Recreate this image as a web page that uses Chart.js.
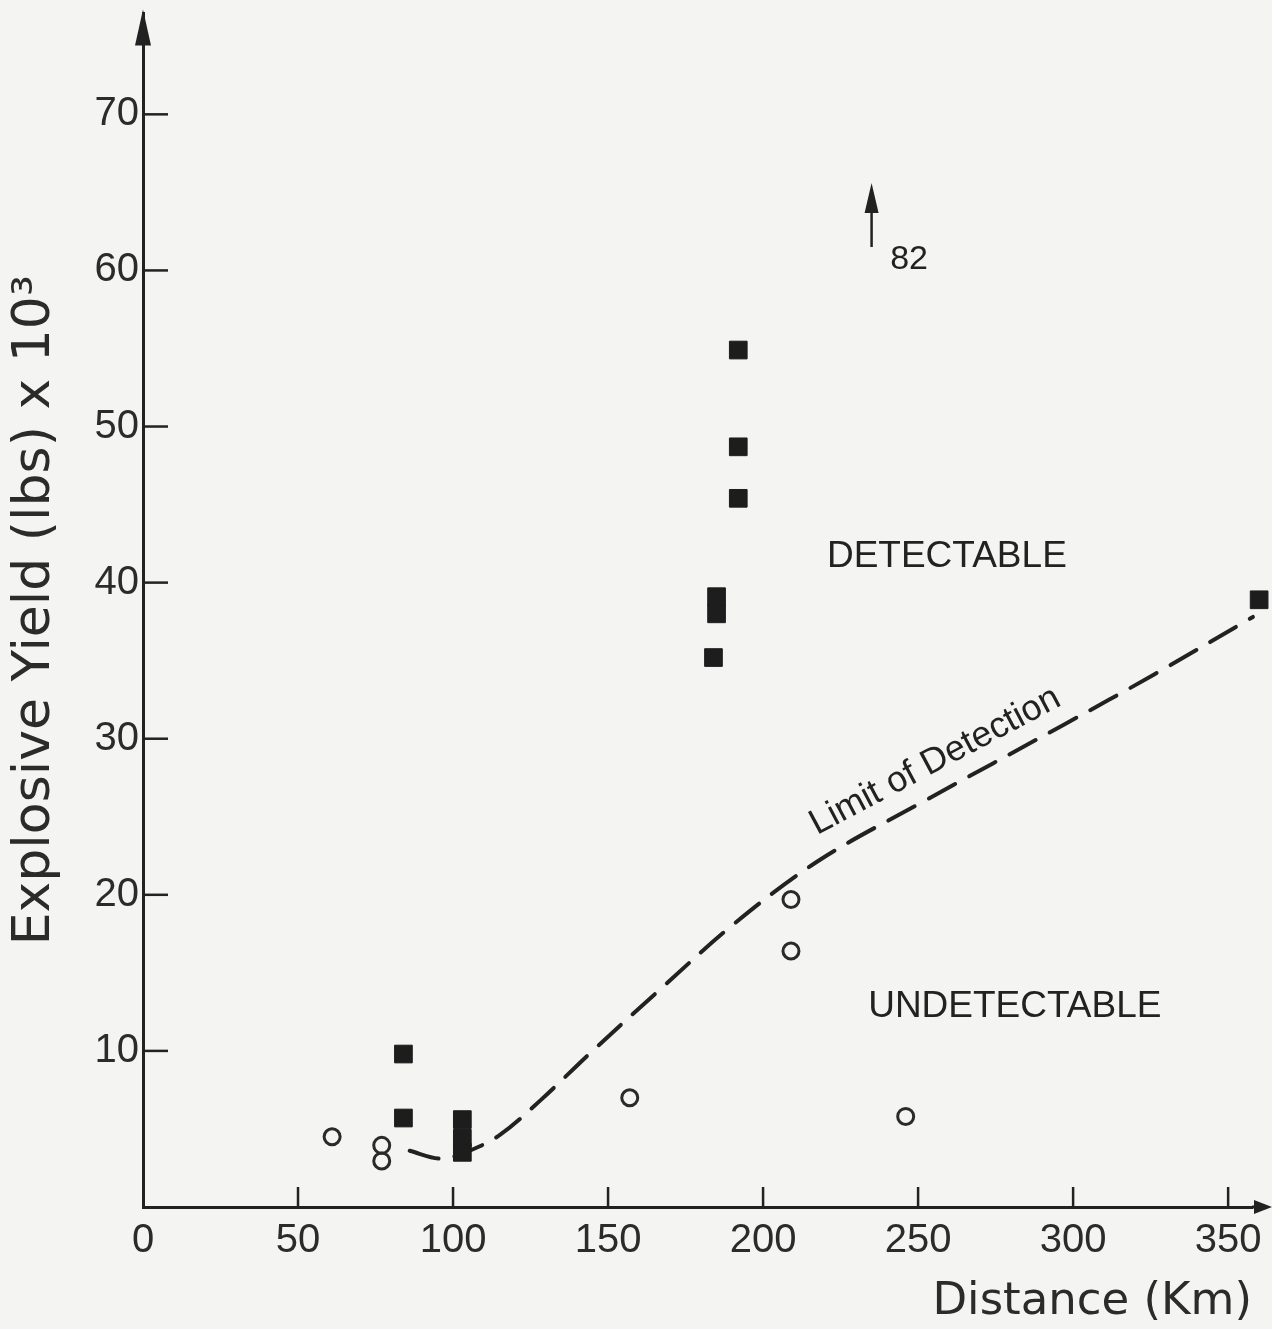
<!DOCTYPE html>
<html>
<head>
<meta charset="utf-8">
<script src="https://cdn.jsdelivr.net/npm/chart.js@4.4.0/dist/chart.umd.min.js"></script>
<style>
  html, body { margin: 0; padding: 0; background: #f4f4f2; }
  canvas { display: block; }
</style>
</head>
<body>
<canvas id="yield-chart" width="1272" height="1329"></canvas>
<script>
// distance in km, explosive yield in 10^3 lbs
const detectableKm = [84, 84, 103, 103, 103, 185, 185, 184, 192, 192, 192, 360];
const detectableYield = [9.8, 5.7, 5.6, 4.4, 3.5, 39.1, 38.0, 35.2, 54.9, 48.7, 45.4, 38.9];

const undetectableKm = [61, 77, 77, 157, 209, 209, 246];
const undetectableYield = [4.5, 3.95, 2.95, 7.0, 19.7, 16.4, 5.8];

const limitKm = [86, 96, 104, 115, 128, 145, 166, 191, 218, 251, 297, 326, 358];
const limitYield = [3.6, 3.1, 3.5, 4.6, 6.8, 10.0, 13.8, 18.2, 22.2, 25.9, 30.9, 34.1, 37.8];

// one shot is off the scale, shown as an arrow with its value
const offScaleKm = 235;
const offScaleYield = 82;

const xTicks = [0, 50, 100, 150, 200, 250, 300, 350];
const yTicks = [10, 20, 30, 40, 50, 60, 70];

const ink = "#222";

function toPoints(xs, ys) {
  return xs.map((v, i) => ({ x: v, y: ys[i] }));
}

function line(ctx, x1, y1, x2, y2) {
  ctx.beginPath();
  ctx.moveTo(x1, y1);
  ctx.lineTo(x2, y2);
  ctx.stroke();
}

const decorations = {
  id: "decorations",
  beforeDraw(chart) {
    const ctx = chart.ctx;
    ctx.save();
    ctx.fillStyle = "#f4f4f2";
    ctx.fillRect(0, 0, chart.width, chart.height);
    ctx.restore();
  },
  afterDraw(chart) {
    const { ctx, chartArea } = chart;
    const xs = chart.scales.x;
    const ys = chart.scales.y;
    ctx.save();
    ctx.strokeStyle = ink;
    ctx.fillStyle = ink;
    ctx.lineWidth = 2.5;

    // tick marks point into the plot
    xTicks.forEach((v) => {
      if (v === 0) return;
      const px = xs.getPixelForValue(v);
      line(ctx, px, chartArea.bottom, px, chartArea.bottom - 20);
    });
    yTicks.forEach((v) => {
      const py = ys.getPixelForValue(v);
      line(ctx, chartArea.left, py, chartArea.left + 25, py);
    });

    // axis arrows
    ctx.lineWidth = 3;
    line(ctx, chartArea.right, chartArea.bottom, chartArea.right + 8, chartArea.bottom);
    ctx.beginPath();
    ctx.moveTo(chartArea.right + 20, chartArea.bottom);
    ctx.lineTo(chartArea.right + 2, chartArea.bottom - 7);
    ctx.lineTo(chartArea.right + 2, chartArea.bottom + 7);
    ctx.closePath();
    ctx.fill();

    ctx.beginPath();
    ctx.moveTo(chartArea.left, chartArea.top - 4);
    ctx.lineTo(chartArea.left - 8, chartArea.top + 32);
    ctx.lineTo(chartArea.left + 8, chartArea.top + 32);
    ctx.closePath();
    ctx.fill();

    // off-scale arrow
    const ax = xs.getPixelForValue(offScaleKm);
    const aBase = ys.getPixelForValue(61.5);
    const aTip = ys.getPixelForValue(65.6);
    ctx.lineWidth = 2.5;
    line(ctx, ax, aBase, ax, aTip + 20);
    ctx.beginPath();
    ctx.moveTo(ax, aTip);
    ctx.lineTo(ax - 7, aTip + 30);
    ctx.lineTo(ax + 7, aTip + 30);
    ctx.closePath();
    ctx.fill();
    ctx.font = "34px 'Liberation Sans'";
    ctx.textAlign = "left";
    ctx.textBaseline = "alphabetic";
    ctx.fillText(String(offScaleYield), xs.getPixelForValue(241), ys.getPixelForValue(60.1));

    // region labels
    ctx.font = "37px 'Liberation Sans'";
    ctx.textBaseline = "middle";
    ctx.fillText("DETECTABLE", xs.getPixelForValue(220.6), ys.getPixelForValue(41.65));
    ctx.fillText("UNDETECTABLE", xs.getPixelForValue(233.9), ys.getPixelForValue(12.8));

    // curve label
    ctx.save();
    ctx.translate(xs.getPixelForValue(257), ys.getPixelForValue(28.0));
    ctx.rotate(-28 * Math.PI / 180);
    ctx.font = "36px 'Liberation Sans'";
    ctx.textAlign = "center";
    ctx.textBaseline = "alphabetic";
    ctx.fillText("Limit of Detection", 0, 0);
    ctx.restore();

    ctx.restore();
  },
};

new Chart(document.getElementById("yield-chart"), {
  type: "scatter",
  data: {
    datasets: [
      {
        label: "Detectable",
        data: toPoints(detectableKm, detectableYield),
        pointStyle: "rect",
        pointRadius: 12.5,
        backgroundColor: "#1d1d1d",
        borderColor: "#1d1d1d",
        borderWidth: 1,
        clip: false,
      },
      {
        label: "Undetectable",
        data: toPoints(undetectableKm, undetectableYield),
        pointStyle: "circle",
        pointRadius: 8,
        backgroundColor: "rgba(0,0,0,0)",
        borderColor: "#2a2a2a",
        borderWidth: 3,
        clip: false,
      },
      {
        label: "Limit of Detection",
        type: "line",
        data: toPoints(limitKm, limitYield),
        showLine: true,
        pointRadius: 0,
        borderColor: ink,
        borderWidth: 4,
        borderDash: [30, 16],
        borderCapStyle: "round",
        tension: 0.35,
        fill: false,
        clip: false,
      },
    ],
  },
  options: {
    responsive: false,
    animation: false,
    layout: { padding: { top: 12, right: 20, left: 0, bottom: 0 } },
    plugins: { legend: { display: false }, tooltip: { enabled: false } },
    scales: {
      x: {
        type: "linear",
        min: 0,
        max: 357.7,
        afterBuildTicks: (scale) => {
          scale.ticks = xTicks.map((v) => ({ value: v }));
        },
        afterFit: (scale) => {
          scale.height = 122;
        },
        ticks: {
          autoSkip: false,
          maxRotation: 0,
          padding: 10,
          color: "#2b2b2b",
          font: { family: "'Liberation Sans'", size: 40 },
        },
        grid: { display: false, drawTicks: false },
        border: { display: true, color: ink, width: 3 },
        title: {
          display: true,
          text: "Distance (Km)",
          align: "end",
          color: "#2b2b2b",
          font: { family: "'DejaVu Sans'", size: 45 },
          padding: { top: 0, bottom: 0 },
        },
      },
      y: {
        type: "linear",
        min: 0,
        max: 76.46,
        afterBuildTicks: (scale) => {
          scale.ticks = yTicks.map((v) => ({ value: v }));
        },
        afterFit: (scale) => {
          scale.width = 143;
          scale.paddingTop = 0;
          scale.paddingBottom = 0;
        },
        ticks: {
          autoSkip: false,
          padding: 4,
          color: "#2b2b2b",
          font: { family: "'Liberation Sans'", size: 40 },
        },
        grid: { display: false, drawTicks: false },
        border: { display: true, color: ink, width: 3 },
        title: {
          display: true,
          text: "Explosive Yield (lbs) x 10³",
          color: "#2b2b2b",
          font: { family: "'DejaVu Sans'", size: 52 },
          padding: { top: 4, bottom: 0 },
        },
      },
    },
  },
  plugins: [decorations],
});
</script>
</body>
</html>
